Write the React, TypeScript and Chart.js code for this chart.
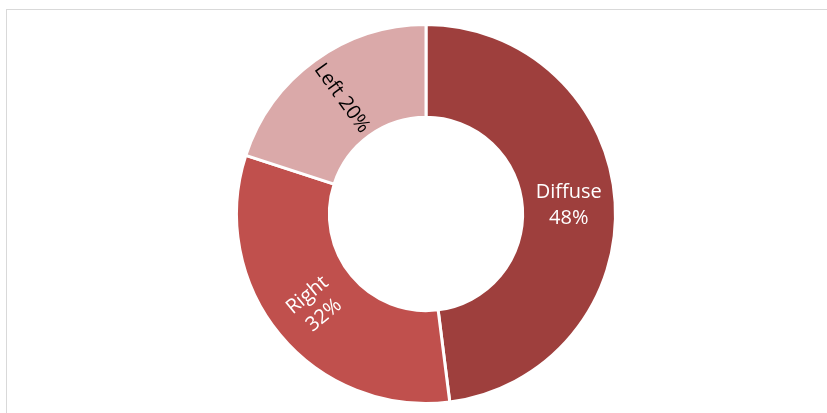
import React, { useEffect, useRef } from "react";
import { Chart, registerables } from "chart.js";

Chart.register(...registerables);

const categories = ["Diffuse", "Right", "Left"];
const values = [48, 32, 20];
const colors = ["#9E3F3D", "#C0504D", "#DAA9A9"];
const labelColors = ["#FFFFFF", "#FFFFFF", "#000000"];
const labelTexts = [["Diffuse", "48%"], ["Right", "32%"], ["Left 20%"]];
const labelRadial = [false, true, true];

const labelPlugin = {
  id: "sliceLabels",
  afterDatasetsDraw(chart: any) {
    const ctx = chart.ctx;
    const meta = chart.getDatasetMeta(0);
    meta.data.forEach((arc: any, i: number) => {
      const { x, y, startAngle, endAngle, innerRadius, outerRadius } = arc.getProps(
        ["x", "y", "startAngle", "endAngle", "innerRadius", "outerRadius"],
        true
      );
      const mid = (startAngle + endAngle) / 2;
      const r = (innerRadius + outerRadius) / 2;
      const cx = x + Math.cos(mid) * r;
      const cy = y + Math.sin(mid) * r;
      ctx.save();
      ctx.translate(cx, cy);
      if (labelRadial[i]) {
        ctx.rotate(mid + Math.PI);
      }
      ctx.fillStyle = labelColors[i];
      ctx.font = "20px 'Open Sans'";
      ctx.textAlign = "center";
      ctx.textBaseline = "middle";
      const lines = labelTexts[i];
      const lh = 26;
      lines.forEach((t, k) => {
        ctx.fillText(t, 0, (k - (lines.length - 1) / 2) * lh);
      });
      ctx.restore();
    });
  },
};

export default function App() {
  const ref = useRef<HTMLCanvasElement>(null);
  useEffect(() => {
    if (!ref.current) return;
    const chart = new Chart(ref.current, {
      type: "doughnut",
      data: {
        labels: categories,
        datasets: [
          {
            data: values,
            backgroundColor: colors,
            borderColor: "#FFFFFF",
            borderWidth: 3,
          },
        ],
      },
      options: {
        animation: false,
        responsive: false,
        maintainAspectRatio: false,
        cutout: "51%",
        layout: { padding: 9 },
        plugins: {
          legend: { display: false },
          tooltip: { enabled: false },
        },
      },
      plugins: [labelPlugin],
    });
    return () => chart.destroy();
  }, []);
  return (
    <div
      style={{
        position: "absolute",
        left: 6,
        top: 9,
        width: 840,
        height: 420,
        border: "1px solid #D9D9D9",
        background: "#FFFFFF",
      }}
    >
      <canvas
        ref={ref}
        width={400}
        height={400}
        style={{ position: "absolute", left: 219, top: 4, width: 400, height: 400 }}
      />
    </div>
  );
}
